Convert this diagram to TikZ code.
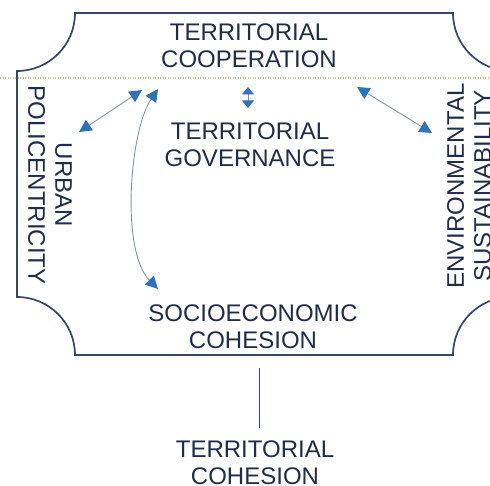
\documentclass[tikz,border=0pt]{standalone}
\usepackage{fontspec}
\setmainfont{Liberation Sans}
\usetikzlibrary{arrows.meta}
\definecolor{txtnavy}{HTML}{1F2C4E}
\definecolor{framecol}{HTML}{34456E}
\definecolor{arrowblue}{HTML}{2A72C6}
\definecolor{linegray}{HTML}{8393AE}
\definecolor{dotgreen}{HTML}{B9CF80}
\tikzset{
  lbl/.style={font=\fontsize{24}{27}\selectfont, text=txtnavy, align=center, inner sep=0pt},
  tipb/.tip={Triangle[length=12.5pt,width=12.5pt,color=arrowblue]},
  tips/.tip={Triangle[length=7.5pt,width=12pt,color=arrowblue]},
  link/.style={draw=linegray, line width=0.9pt, tipb-tipb},
  smalllink/.style={draw=linegray, line width=0.9pt, tips-tips},
  framepath/.style={draw=framecol, line width=1.7pt},
}
\begin{document}
\begin{tikzpicture}[x=1pt,y=1pt]
\useasboundingbox (0,0) rectangle (490,-486);
\clip (0,0) rectangle (490,-486);
% frame with concave corners
\draw[framepath] (75,-13) -- (453,-13) arc[start angle=180,end angle=270,radius=58]
  -- (511,-297) arc[start angle=90,end angle=180,radius=58]
  -- (75,-355) arc[start angle=0,end angle=90,radius=58]
  -- (17,-71) arc[start angle=270,end angle=360,radius=58] -- cycle;
% dotted green line
\coordinate (dl) at (0,-78);
\coordinate (dr) at (490,-78);
\draw[dotgreen, line width=1.2pt, dash pattern=on 1pt off 1.5pt] (dl) -- (dr);
% labels
\node[lbl] (coop) at (249,-46) {TERRITORIAL\\COOPERATION};
\node[lbl] (gov) at (250,-145) {TERRITORIAL\\GOVERNANCE};
\node[lbl] (socio) at (253,-327) {SOCIOECONOMIC\\COHESION};
\node[lbl] (terrcoh) at (255,-463) {TERRITORIAL\\COHESION};
\node[lbl, rotate=-90] (urban) at (50,-185) {URBAN\\POLICENTRICITY};
\node[lbl, rotate=90] (env) at (469,-186) {ENVIRONMENTAL\\SUSTAINABILITY};
% arrow end points
\coordinate (a1s) at (79,-132);
\coordinate (a1e) at (142,-90);
\coordinate (a2s) at (158,-89);
\coordinate (a2e) at (158,-289);
\coordinate (a3s) at (248,-87);
\coordinate (a3e) at (248,-108);
\coordinate (a4s) at (357,-87);
\coordinate (a4e) at (432,-133);
\coordinate (vtop) at (259,-368);
\coordinate (vbot) at (259,-428);
% connectors
\draw[link] (a1s) -- (a1e);
\draw[link] (a2s) .. controls (130,-130) and (120,-250) .. (a2e);
\draw[smalllink] (a3s) -- (a3e);
\draw[link] (a4s) -- (a4e);
\draw[framecol, line width=1pt] (vtop) -- (vbot);
\end{tikzpicture}
\end{document}
